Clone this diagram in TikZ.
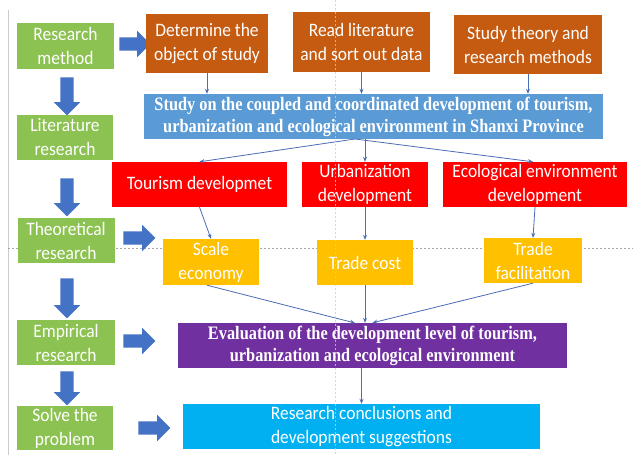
\documentclass[tikz,border=0pt]{standalone}
\usepackage{fontspec}
\setmainfont{Carlito}
\newfontfamily\sanf[FakeStretch=0.92]{Carlito}
\newfontfamily\serf[FakeStretch=0.86]{Liberation Serif}
\usetikzlibrary{shapes.arrows,arrows.meta}
\definecolor{cgreen}{HTML}{8CC251}
\definecolor{corange}{HTML}{C55A11}
\definecolor{cblue}{HTML}{5B9BD5}
\definecolor{cred}{HTML}{FF0000}
\definecolor{cyellow}{HTML}{FFC000}
\definecolor{cpurple}{HTML}{7030A0}
\definecolor{ccyan}{HTML}{00B0F0}
\definecolor{carrow}{HTML}{4472C4}
\definecolor{cline}{HTML}{4A6DB5}
\tikzset{
  box/.style={rectangle, inner sep=0pt, text=white, align=center,
    font=\sanf\fontsize{19}{24}\selectfont},
  serbox/.style={rectangle, inner sep=0pt, text=white, align=center,
    font=\serf\bfseries\fontsize{19}{22}\selectfont},
  barrow/.style={single arrow, fill=carrow, draw=none, inner sep=0pt,
    text height=13pt, text depth=0pt, single arrow head extend=6.5pt},
  conn/.style={draw=cline, line width=0.8pt, -{Stealth[length=5pt,width=4pt]}},
  guide/.style={draw=gray!70, line width=0.5pt, dash pattern=on 2pt off 2pt}
}
\begin{document}
\begin{tikzpicture}[x=1pt,y=-1pt]
\useasboundingbox (0,0) rectangle (633,455);
\fill[white] (0,0) rectangle (633,455);
% screenshot guides (behind)
\draw[draw=gray!40, line width=0.6pt] (8,10) -- (8,455);
\draw[guide] (8,248) -- (633,248);
% left column
\node[box, fill=cgreen, minimum width=97, minimum height=46] (g1) at (65.5,46) {Research\\method};
\node[box, fill=cgreen, minimum width=96, minimum height=45] (g2) at (65,137.5) {Literature\\research};
\node[box, fill=cgreen, minimum width=97, minimum height=45] (g3) at (66,240.5) {Theoretical\\research};
\node[box, fill=cgreen, minimum width=98, minimum height=45] (g4) at (66,342.5) {Empirical\\research};
\node[box, fill=cgreen, minimum width=96, minimum height=44] (g5) at (65,428) {Solve the\\problem};
% down block arrows
\node[barrow, rotate=-90, minimum height=38] (d1) at (67,93) {};
\node[barrow, rotate=-90, minimum height=38] (d2) at (67,194) {};
\node[barrow, rotate=-90, minimum height=40] (d3) at (67,295) {};
\node[barrow, rotate=-90, minimum height=34] (d4) at (67,385) {};
% right block arrows
\node[barrow, minimum height=31] (r1a) at (131.5,44) {};
\node[barrow, minimum height=32] (r3a) at (136,238) {};
\node[barrow, minimum height=32] (r4a) at (136,341) {};
\node[barrow, minimum height=32] (r5a) at (151,428) {};
% top row
\node[box, fill=corange, minimum width=122, minimum height=59] (o1) at (207,43.5) {Determine the\\object of study};
\node[box, fill=corange, minimum width=137, minimum height=60] (o2) at (361.5,42) {Read literature\\and sort out data};
\node[box, fill=corange, minimum width=148, minimum height=59] (o3) at (528,44.5) {Study theory and\\research methods};
% blue
\node[serbox, fill=cblue, minimum width=459, minimum height=45] (bl) at (373.5,116.5)
  {Study on the coupled and coordinated development of tourism,\\urbanization and ecological environment in Shanxi Province};
% red
\node[box, fill=cred, minimum width=175, minimum height=45] (rd1) at (199.5,184.5) {Tourism developmet};
\node[box, fill=cred, minimum width=126, minimum height=45] (rd2) at (365,184.5) {Urbanization\\development};
\node[box, fill=cred, minimum width=184, minimum height=45] (rd3) at (535,184.5) {Ecological environment\\development};
% yellow
\node[box, fill=cyellow, minimum width=96, minimum height=46] (y1) at (211,262) {Scale\\economy};
\node[box, fill=cyellow, minimum width=96, minimum height=45] (y2) at (365,262.5) {Trade cost};
\node[box, fill=cyellow, minimum width=98, minimum height=45] (y3) at (533,260.5) {Trade\\facilitation};
% purple
\node[serbox, fill=cpurple, minimum width=389, minimum height=45] (pu) at (372.5,345.5)
  {Evaluation of the development level of tourism,\\urbanization and ecological environment};
% cyan
\node[box, fill=ccyan, minimum width=357, minimum height=45] (cy) at (361.5,426.5)
  {Research conclusions and\\development suggestions};
% connectors
\draw[conn] (o1.south) -- (o1.south |- bl.north);
\draw[conn] (o2.south) -- (o2.south |- bl.north);
\draw[conn] (o3.south) -- (o3.south |- bl.north);
\coordinate (bs) at (355,139);
\draw[conn] (bs) -- (rd1.north);
\draw[conn] (rd2.north |- bl.south) -- (rd2.north);
\draw[conn] (bs) -- ([xshift=-2pt]rd3.north);
\draw[conn] (rd1.south) -- (y1.north);
\draw[conn] (rd2.south) -- (y2.north);
\draw[conn] (rd3.south) -- (y3.north);
\coordinate (pt) at (355,323);
\draw[conn] ([xshift=-4pt]y1.south) -- (pt);
\draw[conn] (y2.south) -- (y2.south |- pu.north);
\draw[conn] (y3.south) -- (pu.north);
\draw[conn] (cy.north |- pu.south) -- (cy.north);
% vertical guide (front)
\draw[guide, draw=gray!40, opacity=0.8] (335,0) -- (335,455);
\end{tikzpicture}
\end{document}
